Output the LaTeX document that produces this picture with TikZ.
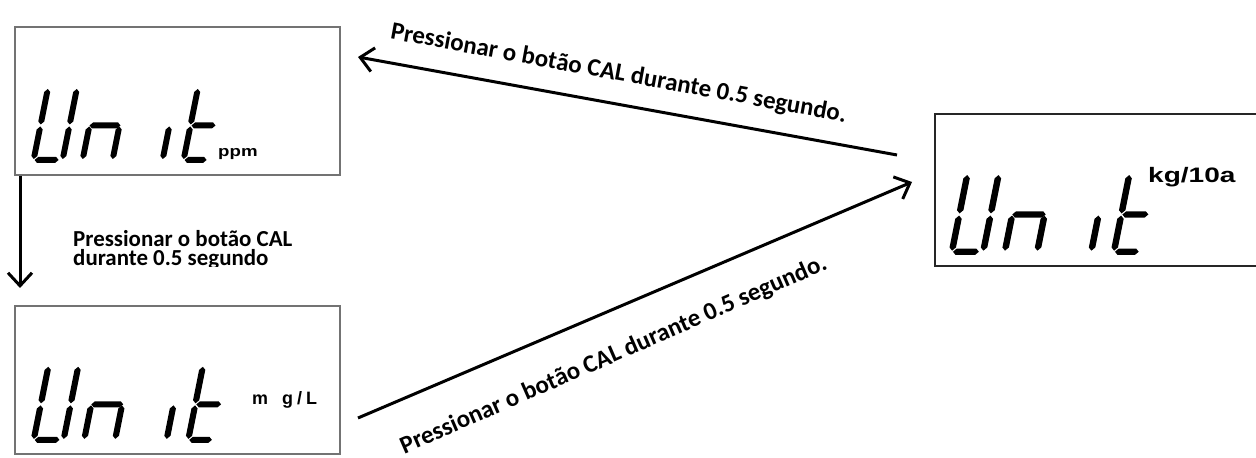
\documentclass[tikz,border=0pt]{standalone}
\usepackage{fontspec}
\usepackage{graphicx}
\usetikzlibrary{arrows.meta}
\newfontfamily\lblfont{Carlito}
\newfontfamily\unitfont{Liberation Sans}
% vertical LCD segment: x0, y0 (bottom point), y1 (top point)
\newcommand{\vsegm}[3]{\fill (#1+3,#2) -- (#1+6,#2+3) -- (#1+6,#3-3) -- (#1+3,#3) -- (#1,#3-3) -- (#1,#2+3) -- cycle;}
% horizontal LCD segment: x0 (left point), x1 (right point), yc
\newcommand{\hsegm}[3]{\fill (#1,#3) -- (#1+3,#3+3) -- (#2-3,#3+3) -- (#2,#3) -- (#2-3,#3-3) -- (#1+3,#3-3) -- cycle;}
% the word "Un it" on a 7-segment display; origin bottom-left, scale
\newcommand{\lcdword}[3]{%
\begin{scope}[shift={(#1,#2)},scale=#3,xslant=0.2]
 % U
 \vsegm{0}{38.5}{74}\vsegm{0}{4}{36.5}\hsegm{4}{28}{3}\vsegm{29}{38.5}{74}\vsegm{29}{4}{36.5}
 % n
 \hsegm{52}{83}{37.5}\vsegm{49}{4}{36.5}\vsegm{79}{4}{36.5}
 % i
 \vsegm{129}{4}{36.5}
 % t
 \vsegm{150}{38.5}{74}\vsegm{150}{4}{36.5}\hsegm{154}{178}{37.5}\hsegm{154}{176}{3}
\end{scope}}
\tikzset{
  x=1bp,y=1bp,
  lcdbox/.style={draw=black!55,line width=1.8bp,fill=none,inner sep=0},
  lcdboxdark/.style={draw=black!85,line width=1.6bp,fill=none,inner sep=0},
  arr/.style={line width=3bp,-{Straight Barb[length=13bp,width=24bp]}},
  lbl/.style={font=\lblfont\bfseries\fontsize{23}{23}\selectfont,inner sep=0},
  rlbl/.style={font=\lblfont\bfseries\fontsize{25}{25}\selectfont,inner sep=0},
  unitlbl/.style={font=\unitfont\bfseries,inner sep=0,anchor=base west}
}
\begin{document}
\begin{tikzpicture}
\useasboundingbox (0,0) rectangle (1256,458);
% display boxes
\node[lcdbox,minimum width=325bp,minimum height=148bp,anchor=south west] (box1) at (14,282) {};
\node[lcdbox,minimum width=325bp,minimum height=148bp,anchor=south west] (box2) at (14,3) {};
\node[lcdboxdark,minimum width=322bp,minimum height=152bp,anchor=south west] (box3) at (934,191) {};
% segment words
\lcdword{30}{295}{1}
\lcdword{30}{15}{1.03}
\lcdword{948}{203}{1.08}
% unit labels
\node[unitlbl,font=\unitfont\bfseries\fontsize{15}{15}\selectfont] (u1) at (218,301) {\scalebox{1.25}[1]{ppm}};
\node[unitlbl,font=\unitfont\bfseries\fontsize{18}{18}\selectfont] (u2) at (252,53) {m\hspace{14bp}g\hspace{4bp}/\hspace{4bp}L};
\node[unitlbl,font=\unitfont\bfseries\fontsize{21}{21}\selectfont] (u3) at (1148,275) {\scalebox{1.34}[1]{kg/10a}};
% connectors
\coordinate (v1) at (20,282);
\coordinate (v2) at (20,170);
\draw[arr] (v1) -- (v2);
\coordinate (t1) at (897,303);
\coordinate (t2) at (358,401);
\draw[arr] (t1) -- (t2);
\coordinate (b1) at (358,40);
\coordinate (b2) at (912,276);
\draw[arr] (b1) -- (b2);
% labels
\node[lbl,anchor=base west] (l1) at (73,211) {Pressionar o botão CAL};
\begin{scope}
\clip (60,191) rectangle (400,240);
\node[lbl,anchor=base west] (l2) at (73,192.5) {durante 0.5 segundo};
\end{scope}
\node[rlbl,anchor=base,rotate=-10.4] (l3) at (617.5,377.5) {Pressionar o botão CAL durante 0.5 segundo.};
\node[rlbl,anchor=base,rotate=23.6] (l4) at (616.5,96.5) {Pressionar o botão CAL durante 0.5 segundo.};
\end{tikzpicture}
\end{document}
